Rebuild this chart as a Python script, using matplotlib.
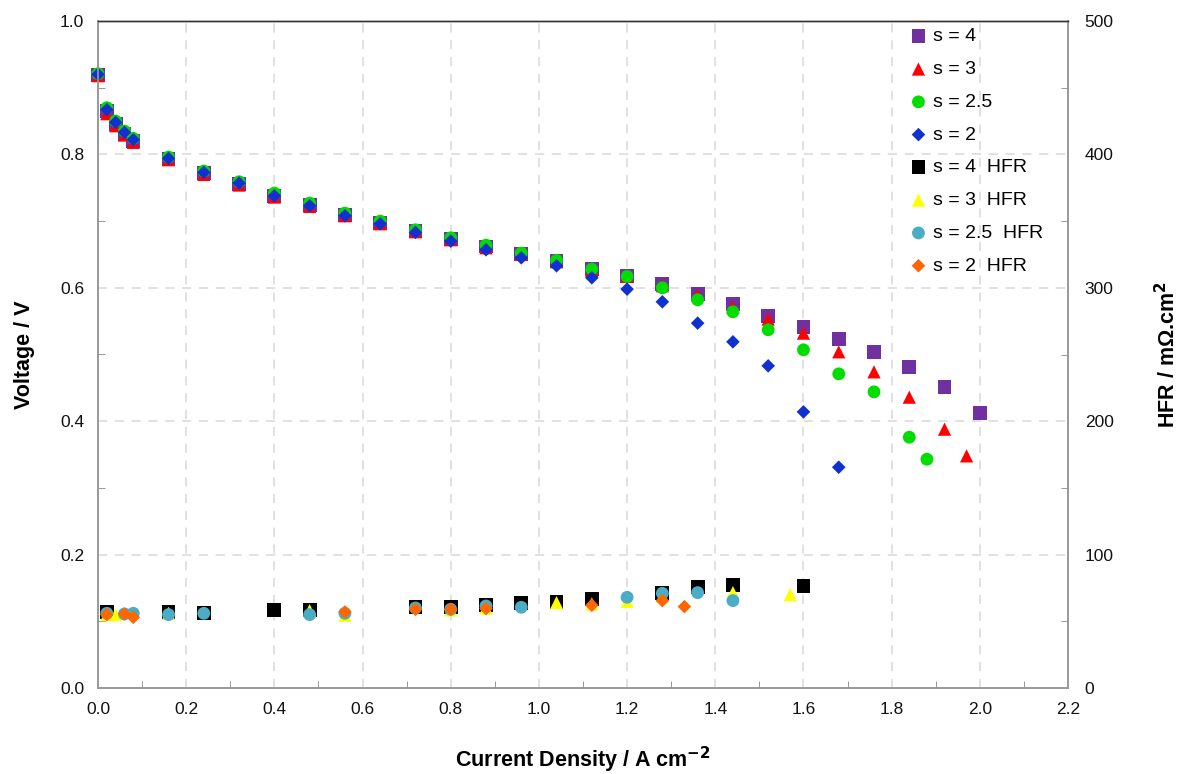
import matplotlib
matplotlib.use("Agg")
import matplotlib.pyplot as plt
from matplotlib.ticker import MultipleLocator

plt.rcParams['font.family'] = ['Liberation Sans', 'DejaVu Sans']

# --- polarisation curves (V vs A/cm2) ---
j_s4 = [0.00, 0.02, 0.04, 0.06, 0.08, 0.16, 0.24, 0.32, 0.40, 0.48, 0.56, 0.64, 0.72, 0.80,
        0.88, 0.96, 1.04, 1.12, 1.20, 1.28, 1.36, 1.44, 1.52, 1.60, 1.68, 1.76, 1.84, 1.92, 2.00]
v_s4 = [0.919, 0.865, 0.845, 0.831, 0.820, 0.793, 0.772, 0.756, 0.738, 0.724, 0.709, 0.697,
        0.685, 0.673, 0.662, 0.651, 0.640, 0.628, 0.618, 0.606, 0.591, 0.576, 0.558, 0.541,
        0.523, 0.504, 0.481, 0.451, 0.412]

j_s3 = [0.00, 0.02, 0.04, 0.06, 0.08, 0.16, 0.24, 0.32, 0.40, 0.48, 0.56, 0.64, 0.72, 0.80,
        0.88, 0.96, 1.04, 1.12, 1.20, 1.28, 1.36, 1.44, 1.52, 1.60, 1.68, 1.76, 1.84, 1.92, 1.97]
v_s3 = [0.918, 0.861, 0.843, 0.829, 0.818, 0.792, 0.770, 0.754, 0.736, 0.722, 0.708, 0.696,
        0.684, 0.672, 0.660, 0.650, 0.639, 0.626, 0.617, 0.603, 0.589, 0.571, 0.553, 0.532,
        0.504, 0.474, 0.436, 0.388, 0.348]

j_s25 = [0.00, 0.02, 0.04, 0.06, 0.08, 0.16, 0.24, 0.32, 0.40, 0.48, 0.56, 0.64, 0.72, 0.80,
         0.88, 0.96, 1.04, 1.12, 1.20, 1.28, 1.36, 1.44, 1.52, 1.60, 1.68, 1.76, 1.84, 1.88]
v_s25 = [0.921, 0.870, 0.850, 0.835, 0.824, 0.796, 0.775, 0.759, 0.742, 0.727, 0.712, 0.700,
         0.687, 0.675, 0.664, 0.652, 0.641, 0.628, 0.617, 0.600, 0.582, 0.564, 0.537, 0.507,
         0.471, 0.444, 0.376, 0.343]

j_s2 = [0.00, 0.02, 0.04, 0.06, 0.08, 0.16, 0.24, 0.32, 0.40, 0.48, 0.56, 0.64, 0.72, 0.80,
        0.88, 0.96, 1.04, 1.12, 1.20, 1.28, 1.36, 1.44, 1.52, 1.60, 1.68]
v_s2 = [0.920, 0.867, 0.848, 0.833, 0.822, 0.794, 0.773, 0.757, 0.738, 0.723, 0.708, 0.696,
        0.683, 0.670, 0.657, 0.645, 0.633, 0.615, 0.598, 0.579, 0.547, 0.519, 0.483, 0.414,
        0.331]

# --- high frequency resistance (mOhm.cm2) ---
j_s4_hfr = [0.02, 0.16, 0.24, 0.40, 0.48, 0.72, 0.80, 0.88, 0.96, 1.04, 1.12, 1.28, 1.36, 1.44, 1.60]
hfr_s4 = [57.0, 57.0, 56.0, 58.5, 58.5, 60.5, 61.0, 62.0, 63.5, 64.5, 67.0, 71.5, 75.5, 77.5, 76.5]

j_s3_hfr = [0.02, 0.04, 0.16, 0.48, 0.56, 0.80, 0.88, 1.04, 1.12, 1.20, 1.28, 1.44, 1.57]
hfr_s3 = [55.0, 55.0, 56.0, 58.0, 54.5, 58.5, 60.0, 64.0, 63.0, 65.0, 69.0, 71.5, 70.0]

j_s25_hfr = [0.02, 0.06, 0.08, 0.16, 0.24, 0.48, 0.56, 0.72, 0.80, 0.88, 0.96, 1.20, 1.28, 1.36, 1.44]
hfr_s25 = [56.0, 55.5, 56.0, 55.0, 56.0, 55.0, 56.0, 60.0, 59.0, 61.5, 60.5, 68.0, 71.0, 71.5, 65.5]

j_s2_hfr = [0.02, 0.06, 0.08, 0.56, 0.72, 0.80, 0.88, 1.12, 1.28, 1.33]
hfr_s2 = [55.0, 55.5, 53.0, 57.0, 59.0, 59.0, 59.5, 62.0, 65.5, 61.0]

fig = plt.figure(figsize=(11.82, 7.74), dpi=100)
ax = fig.add_axes([98 / 1182, 1 - 688 / 774, 970 / 1182, 667 / 774])
ax2 = ax.twinx()

kw = dict(edgecolors='none', zorder=3, clip_on=False)
h1 = ax.scatter(j_s4, v_s4, marker='s', s=100, color='#7030A0', label='s = 4', **kw)
h2 = ax.scatter(j_s3, v_s3, marker='^', s=90, color='#FF0000', label='s = 3', **kw)
h3 = ax.scatter(j_s25, v_s25, marker='o', s=85, color='#00DD00', label='s = 2.5', **kw)
h4 = ax.scatter(j_s2, v_s2, marker='D', s=48, color='#1030D0', label='s = 2', **kw)

h5 = ax2.scatter(j_s4_hfr, hfr_s4, marker='s', s=100, color='#000000', label='s = 4  HFR', **kw)
h6 = ax2.scatter(j_s3_hfr, hfr_s3, marker='^', s=90, color='#FFFF00', label='s = 3  HFR', **kw)
h7 = ax2.scatter(j_s25_hfr, hfr_s25, marker='o', s=85, color='#4BACC6', label='s = 2.5  HFR', **kw)
h8 = ax2.scatter(j_s2_hfr, hfr_s2, marker='D', s=48, color='#FF6600', label='s = 2  HFR', **kw)

ax.set_xlim(0, 2.2)
ax.set_ylim(0, 1.0)
ax2.set_ylim(0, 500)

ax.xaxis.set_major_locator(MultipleLocator(0.2))
ax.xaxis.set_minor_locator(MultipleLocator(0.1))
ax.yaxis.set_major_locator(MultipleLocator(0.2))
ax.yaxis.set_minor_locator(MultipleLocator(0.1))
ax2.yaxis.set_major_locator(MultipleLocator(100))
ax2.yaxis.set_minor_locator(MultipleLocator(50))
ax.xaxis.set_major_formatter(plt.FormatStrFormatter('%.1f'))
ax.yaxis.set_major_formatter(plt.FormatStrFormatter('%.1f'))

ax.grid(True, which='major', color='#D9D9D9', linestyle=(0, (6, 5)), linewidth=1.1)
ax.set_axisbelow(True)

for a in (ax, ax2):
    for side in ('left', 'right', 'bottom'):
        a.spines[side].set_color('#999999')
        a.spines[side].set_linewidth(1.2)
    a.spines['top'].set_color('#333333')
    a.spines['top'].set_linewidth(1.0)

ax.tick_params(axis='both', which='major', length=0, labelsize=12.5, pad=10, labelcolor='#111111')
ax.tick_params(axis='both', which='minor', direction='in', length=5, color='#888888')
ax2.tick_params(axis='y', which='major', length=0, labelsize=12.5, pad=12, labelcolor='#111111')
ax2.tick_params(axis='y', which='minor', direction='in', length=5, color='#888888')

ax.set_xlabel('Current Density / A cm$^{\\mathbf{-2}}$', fontsize=15.5, fontweight='bold', labelpad=20)
ax.set_ylabel('Voltage / V', fontsize=15.5, fontweight='bold', labelpad=18)
ax2.set_ylabel('HFR / m\u03a9.cm$^{\\mathbf{2}}$', fontsize=15.5, fontweight='bold', labelpad=30)

handles = [h1, h2, h3, h4, h5, h6, h7, h8]
ax2.legend(handles=handles, labels=[h.get_label() for h in handles],
           loc='upper left', bbox_to_anchor=(899 / 1182, 1 - 20 / 774), bbox_transform=fig.transFigure,
           frameon=False, fontsize=14, labelspacing=0.78, handletextpad=0.15, handlelength=1.2,
           markerscale=1.0, borderaxespad=0)

fig.savefig('out.png', dpi=100)
